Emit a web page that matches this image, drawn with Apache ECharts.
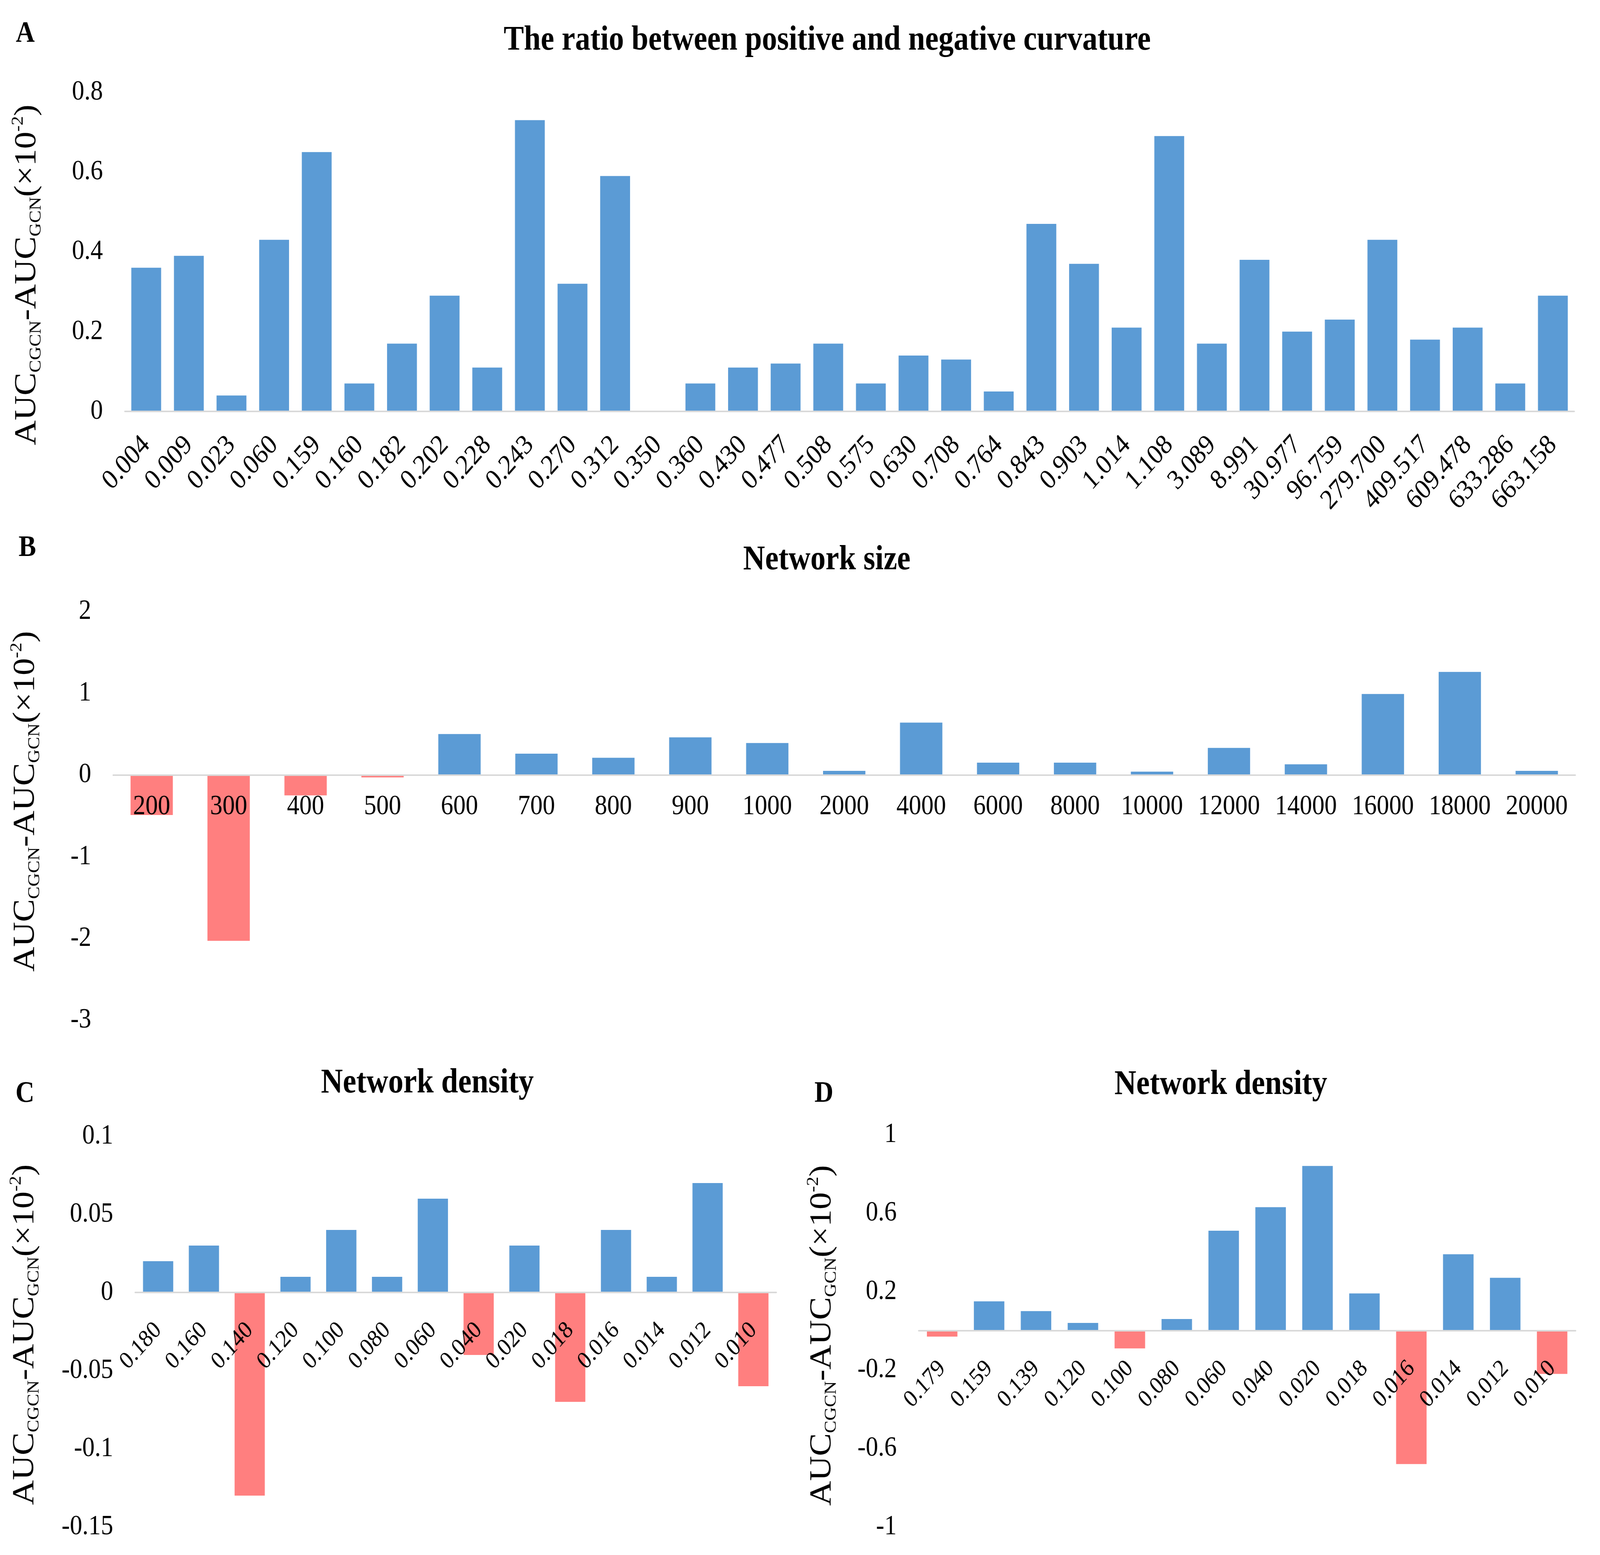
<!DOCTYPE html>
<html><head><meta charset="utf-8">
<script src="https://cdn.jsdelivr.net/npm/echarts@6/dist/echarts.min.js"></script>
<style>html,body{margin:0;padding:0;background:#fff;overflow:hidden}
#c{width:4650px;height:3980px;transform-origin:0 0}</style>
</head><body><div id="c"></div>
<script>
// ---- data ----
const aCategories = ['0.004','0.009','0.023','0.060','0.159','0.160','0.182','0.202','0.228','0.243','0.270','0.312','0.350','0.360','0.430','0.477','0.508','0.575','0.630','0.708','0.764','0.843','0.903','1.014','1.108','3.089','8.991','30.977','96.759','279.700','409.517','609.478','633.286','663.158'];
const aValues = [0.36,0.39,0.04,0.43,0.65,0.07,0.17,0.29,0.11,0.73,0.32,0.59,0,0.07,0.11,0.12,0.17,0.07,0.14,0.13,0.05,0.47,0.37,0.21,0.69,0.17,0.38,0.20,0.23,0.43,0.18,0.21,0.07,0.29];
const bCategories = ['200','300','400','500','600','700','800','900','1000','2000','4000','6000','8000','10000','12000','14000','16000','18000','20000'];
const bValues = [-0.49,-2.03,-0.25,-0.03,0.50,0.26,0.21,0.46,0.39,0.05,0.64,0.15,0.15,0.04,0.33,0.13,0.99,1.26,0.05];
const cCategories = ['0.180','0.160','0.140','0.120','0.100','0.080','0.060','0.040','0.020','0.018','0.016','0.014','0.012','0.010'];
const cValues = [0.02,0.03,-0.13,0.01,0.04,0.01,0.06,-0.04,0.03,-0.07,0.04,0.01,0.07,-0.06];
const dCategories = ['0.179','0.159','0.139','0.120','0.100','0.080','0.060','0.040','0.020','0.018','0.016','0.014','0.012','0.010'];
const dValues = [-0.03,0.15,0.10,0.04,-0.09,0.06,0.51,0.63,0.84,0.19,-0.68,0.39,0.27,-0.22];
const dTickLabels = ['-1','-0.6','-0.2','0.2','0.6','1'];
const panelTitles = ['The ratio between positive and negative curvature','Network size','Network density','Network density'];
const panelLetters = ['A','B','C','D'];
const yAxisName = '{m|AUC}{s|CGCN}{m|-AUC}{s|GCN}{m|(×10}{p|-2}{m|)}';

// ---- fit the 4650x3980 design into the actual window ----
const W = 4650, H = 3980;
const el = document.getElementById('c');
el.style.transform = 'scale(' + (window.innerWidth / W) + ',' + (window.innerHeight / H) + ')';

// ---- style ----
const FONT = '"Liberation Serif", "Times New Roman", serif';
const BLUE = '#5B9BD5', RED = '#FF7F7F', AXIS = '#D9D9D9';

const nameRich = {
  m: {fontSize: 88, lineHeight: 100, fontFamily: FONT, color: '#000'},
  s: {fontSize: 48, lineHeight: 76, verticalAlign: 'bottom', fontFamily: FONT, color: '#000'},
  p: {fontSize: 48, lineHeight: 59, verticalAlign: 'top', fontFamily: FONT, color: '#000'}
};

const grids = [
  {left: 363, right: 75, top: 236, height: 817},
  {left: 329, right: 72, top: 1565, height: 1046},
  {left: 393, width: 1863, top: 2908, height: 1000},
  {left: 2670, right: 71, top: 2904, height: 1004}
].map(g => Object.assign({outerBoundsMode: 'none', containLabel: false}, g));

const yRanges = [[0, 0.8, 0.2], [-3, 2, 1], [-0.15, 0.1, 0.05], [-1, 1, 0.2]];

function xAxisFor(i, cats, opts) {
  // place the category axis line (and its labels) at y = 0 of the value axis
  const r = yRanges[i];
  const zeroOffset = -grids[i].height * (0 - r[0]) / (r[1] - r[0]);
  return {
    type: 'category', gridIndex: i, data: cats, z: 10, position: 'bottom', offset: zeroOffset,
    axisLine: {show: true, onZero: false, lineStyle: {color: AXIS, width: 4}},
    axisTick: {show: false},
    splitLine: {show: false},
    axisLabel: Object.assign({interval: 0, color: '#000', fontFamily: FONT}, opts)
  };
}
function yAxisFor(i, gap, pad, fmt) {
  const r = yRanges[i];
  const ax = {
    type: 'value', gridIndex: i, min: r[0], max: r[1], interval: r[2],
    axisLine: {show: false}, axisTick: {show: false}, splitLine: {show: false},
    axisLabel: {fontSize: 72, fontFamily: FONT, color: '#000', margin: 64},
    name: yAxisName, nameLocation: 'middle', nameRotate: 90, nameGap: gap,
    nameTextStyle: {fontFamily: FONT, fontSize: 88, color: '#000', rich: nameRich, padding: pad}
  };
  if (fmt) ax.axisLabel.formatter = fmt;
  return ax;
}
function barSeries(i, values, gap) {
  return {
    type: 'bar', xAxisIndex: i, yAxisIndex: i, data: values,
    barCategoryGap: gap,
    itemStyle: {color: p => (p.value < 0 ? RED : BLUE)},
    emphasis: {disabled: true}
  };
}

const titlePos = [[2404, 104], [2403, 1434], [1242, 2773], [3548, 2777]];
const letterPos = [[46, 87], [54, 1403], [45, 2800], [2367, 2800]];
const graphics = [];
panelTitles.forEach((t, i) => graphics.push({
  type: 'text', x: titlePos[i][0], y: titlePos[i][1],
  style: {text: t, fontSize: 88, fontWeight: 'bold', fontFamily: FONT, fill: '#000', align: 'center', verticalAlign: 'middle'}
}));
panelLetters.forEach((t, i) => graphics.push({
  type: 'text', x: letterPos[i][0], y: letterPos[i][1],
  style: {text: t, fontSize: 76, fontWeight: 'bold', fontFamily: FONT, fill: '#000', align: 'left', verticalAlign: 'middle'}
}));

const chart = echarts.init(el, null, {renderer: 'canvas', width: W, height: H});
chart.setOption({
  backgroundColor: '#fff',
  animation: false,
  grid: grids,
  graphic: graphics,
  xAxis: [
    xAxisFor(0, aCategories, {fontSize: 72, rotate: 45, margin: 75}),
    xAxisFor(1, bCategories, {fontSize: 72, margin: 46}),
    xAxisFor(2, cCategories, {fontSize: 63, rotate: 45, margin: 87}),
    xAxisFor(3, dCategories, {fontSize: 63, rotate: 45, margin: 87})
  ],
  yAxis: [
    yAxisFor(0, 234, [0, 118, 0, 0]),
    yAxisFor(1, 204, [0, 0, 0, 74]),
    yAxisFor(2, 270, [0, 16, 0, 0]),
    yAxisFor(3, 230, [0, 24, 0, 0], v => {
      const s = String(+(+v).toFixed(2));
      return dTickLabels.indexOf(s) >= 0 ? s : '';
    })
  ],
  series: [
    barSeries(0, aValues, '30%'),
    barSeries(1, bValues, '45%'),
    barSeries(2, cValues, '34%'),
    barSeries(3, dValues, '35%')
  ]
});
</script></body></html>
